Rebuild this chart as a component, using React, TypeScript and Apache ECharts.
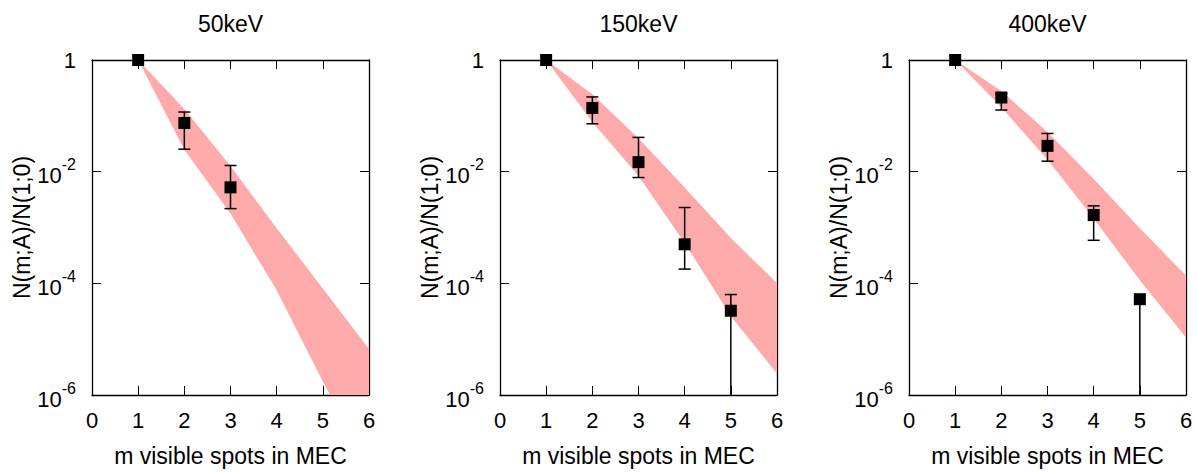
import React, { useEffect, useRef } from 'react';
import * as echarts from 'echarts';

const FONT = '"Liberation Sans", Arial, Helvetica, sans-serif';

const panelTitles = ['50keV', '150keV', '400keV'];
const xAxisName = 'm visible spots in MEC';
const yAxisName = 'N(m;A)/N(1;0)';

// model band (x = m, lower / upper edges)
const bandX = [1, 2, 3, 4, 5, 6];
const band50Upper = [1, 0.133, 0.0126, 9.7e-4, 8.1e-5, 6.7e-6];
const band50Lower = [1, 0.0247, 1.78e-3, 7.5e-5, 1.74e-6, 5.5e-8];
const band150Upper = [1, 0.243, 0.0396, 5.2e-3, 6.5e-4, 1.0e-4];
const band150Lower = [1, 0.0775, 8.4e-3, 5.3e-4, 2.57e-5, 2.4e-6];
const band400Upper = [1, 0.278, 0.0515, 7.4e-3, 9.7e-4, 1.38e-4];
const band400Lower = [1, 0.142, 0.0165, 1.45e-3, 1.13e-4, 1.07e-5];

// measured points with error bars (lower 0 = extends below the axis)
const m50 = [1, 2, 3];
const val50 = [1, 0.0744, 5.24e-3];
const errHi50 = [1, 0.117, 0.0129];
const errLo50 = [1, 0.0253, 2.18e-3];

const m150 = [1, 2, 3, 4, 5];
const val150 = [1, 0.138, 0.0148, 5.0e-4, 3.23e-5];
const errHi150 = [1, 0.218, 0.0411, 2.28e-3, 6.3e-5];
const errLo150 = [1, 0.072, 7.85e-3, 1.8e-4, 0];

const m400 = [1, 2, 3, 4, 5];
const val400 = [1, 0.213, 0.029, 1.67e-3, 5.2e-5];
const errHi400 = [1, 0.25, 0.0483, 2.44e-3, 5.2e-5];
const errLo400 = [1, 0.127, 0.0154, 5.9e-4, 0];

const xTickMin = 0;
const xTickMax = 6;
const yMin = 1e-6;
const yMax = 1;

const panels = [
  { title: panelTitles[0], bx: bandX, bu: band50Upper, bl: band50Lower, m: m50, v: val50, hi: errHi50, lo: errLo50 },
  { title: panelTitles[1], bx: bandX, bu: band150Upper, bl: band150Lower, m: m150, v: val150, hi: errHi150, lo: errLo150 },
  { title: panelTitles[2], bx: bandX, bu: band400Upper, bl: band400Lower, m: m400, v: val400, hi: errHi400, lo: errLo400 },
];

const gridLefts = [92, 500, 909];
const gridWidth = 277;
const gridTop = 60;
const gridHeight = 342;

function yLabel(v: number) {
  const e = Math.round(Math.log10(v));
  if (e === 0) return '{one|1}';
  return '{b|10}{s|' + e + '}';
}

export default function App() {
  const ref = useRef<HTMLDivElement>(null);
  useEffect(() => {
    if (!ref.current) return;
    const chart = echarts.init(ref.current, undefined, { renderer: 'svg' });
    const grids: any[] = [];
    const xAxes: any[] = [];
    const yAxes: any[] = [];
    const series: any[] = [];
    const graphics: any[] = [];
    panels.forEach((p, i) => {
      grids.push({ left: gridLefts[i], top: gridTop, width: gridWidth, height: gridHeight, containLabel: false });
      const lineStyle = { color: '#000', width: 1.3 };
      const tick = { show: true, inside: true, length: 9, lineStyle: { color: '#000', width: 1 } };
      xAxes.push({
        type: 'value', gridIndex: i, min: xTickMin, max: xTickMax, interval: 1, position: 'bottom',
        name: xAxisName, nameLocation: 'middle', nameGap: 49,
        nameTextStyle: { fontSize: 23, color: '#000', fontFamily: FONT },
        axisLine: { show: true, onZero: false, lineStyle },
        axisTick: tick,
        axisLabel: { fontSize: 22, color: '#000', margin: 14, fontFamily: FONT },
        splitLine: { show: false },
      });
      xAxes.push({
        type: 'value', gridIndex: i, min: xTickMin, max: xTickMax, interval: 1, position: 'top',
        axisLine: { show: true, onZero: false, lineStyle },
        axisTick: tick,
        axisLabel: { show: false },
        splitLine: { show: false },
      });
      yAxes.push({
        type: 'log', logBase: 10, gridIndex: i, min: yMin, max: yMax, interval: 2, position: 'left',
        name: yAxisName, nameLocation: 'middle', nameGap: 52, nameRotate: 90,
        nameTextStyle: { fontSize: 23, color: '#000', fontFamily: FONT },
        axisLine: { show: true, onZero: false, lineStyle },
        axisTick: tick,
        minorTick: { show: false },
        axisLabel: {
          color: '#000', margin: 16, fontFamily: FONT,
          formatter: yLabel,
          rich: {
            one: { fontSize: 22, fontFamily: FONT, color: '#000' },
            b: { fontSize: 22, fontFamily: FONT, color: '#000', padding: [8, 0, 0, 0] },
            s: { fontSize: 16, fontFamily: FONT, color: '#000', verticalAlign: 'top' },
          },
        },
        splitLine: { show: false },
      });
      yAxes.push({
        type: 'log', logBase: 10, gridIndex: i, min: yMin, max: yMax, interval: 2, position: 'right',
        axisLine: { show: true, onZero: false, lineStyle },
        axisTick: tick,
        axisLabel: { show: false },
        splitLine: { show: false },
      });
      const xIdx = i * 2;
      const yIdx = i * 2;
      // band
      series.push({
        type: 'custom', xAxisIndex: xIdx, yAxisIndex: yIdx, clip: true, z: 1, silent: true,
        data: p.bx.map((x, k) => [x, p.bl[k], p.bu[k]]),
        encode: { x: 0, y: [1, 2] },
        renderItem: (params: any, api: any) => {
          if (params.dataIndex !== 0) return null;
          const pts: number[][] = [];
          for (let k = 0; k < p.bx.length; k++) pts.push(api.coord([p.bx[k], p.bu[k]]));
          for (let k = p.bx.length - 1; k >= 0; k--) pts.push(api.coord([p.bx[k], p.bl[k]]));
          return { type: 'polygon', shape: { points: pts }, style: { fill: '#ffaaaa', stroke: null } };
        },
      });
      // error bars
      series.push({
        type: 'custom', xAxisIndex: xIdx, yAxisIndex: yIdx, clip: true, z: 2, silent: true,
        data: p.m.map((x, k) => [x, p.v[k], p.hi[k], p.lo[k]]),
        encode: { x: 0, y: 1 },
        renderItem: (params: any, api: any) => {
          const x = api.value(0);
          const v = api.value(1);
          const hi = api.value(2);
          const lo = api.value(3);
          if (hi === lo) return null;
          const cs = params.coordSys;
          const pv = api.coord([x, v]);
          const ph = api.coord([x, hi]);
          const px = pv[0];
          const yTop = ph[1];
          const yBot = lo > 0 ? api.coord([x, lo])[1] : cs.y + cs.height;
          const st = { stroke: '#000', lineWidth: 1.5 };
          const cw = 6;
          const children: any[] = [
            { type: 'line', shape: { x1: px, y1: yTop, x2: px, y2: yBot }, style: st },
          ];
          if (hi > v) children.push({ type: 'line', shape: { x1: px - cw, y1: yTop, x2: px + cw, y2: yTop }, style: st });
          if (lo > 0) children.push({ type: 'line', shape: { x1: px - cw, y1: yBot, x2: px + cw, y2: yBot }, style: st });
          return { type: 'group', children };
        },
      });
      // points
      series.push({
        type: 'scatter', xAxisIndex: xIdx, yAxisIndex: yIdx, z: 3, silent: true,
        symbol: 'rect', symbolSize: 12,
        itemStyle: { color: '#000', opacity: 1 },
        data: p.m.map((x, k) => [x, p.v[k]]),
      });
      graphics.push({
        type: 'text', x: gridLefts[i] + gridWidth / 2, y: 24,
        style: { text: p.title, fill: '#000', font: '23px ' + FONT, textAlign: 'center', textVerticalAlign: 'middle' },
      });
    });
    chart.setOption({
      animation: false,
      backgroundColor: '#fff',
      grid: grids,
      xAxis: xAxes,
      yAxis: yAxes,
      series,
      graphic: graphics,
    });
    return () => chart.dispose();
  }, []);
  return <div ref={ref} style={{ position: 'absolute', left: 0, top: 0, width: 1197, height: 472 }} />;
}
